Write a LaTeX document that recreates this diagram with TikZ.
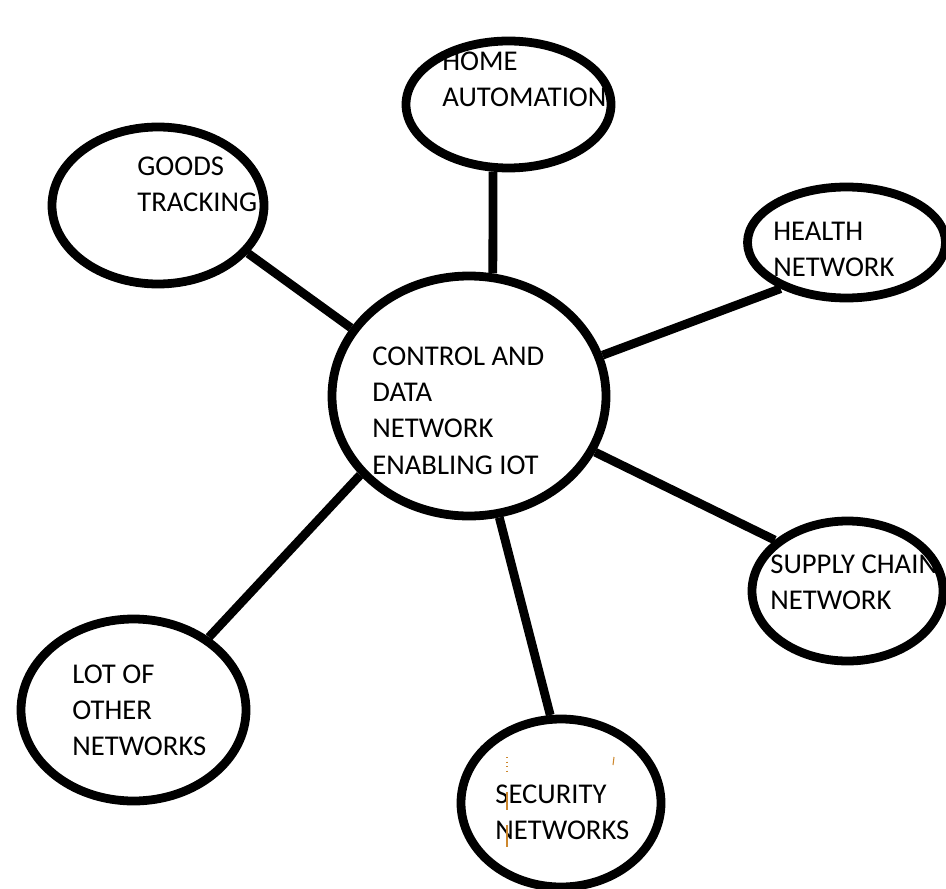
\documentclass[tikz,border=0pt]{standalone}
\usepackage{fontspec}
\setmainfont{Carlito}
\usepackage{tikz}
\usetikzlibrary{shapes.geometric}
\definecolor{cursor}{RGB}{205,135,45}

\begin{document}
\begin{tikzpicture}[
    bubble/.style={draw, ellipse, line width=5pt, inner sep=0pt},
    link/.style={line width=5pt},
    lbl/.style={anchor=north west, inner sep=0pt, align=left,
        font=\fontsize{16.3}{20.5}\selectfont}
]

\useasboundingbox (0,0) rectangle (18.92,-17.76);

% Bubbles
\node[bubble, minimum width=5.48cm, minimum height=4.8cm] (ctr) at (9.38,-7.92) {};
\node[bubble, minimum width=4.1cm, minimum height=2.54cm] (home) at (10.17,-2.09) {};
\node[bubble, minimum width=4.24cm, minimum height=3.14cm] (goods) at (3.16,-4.11) {};
\node[bubble, minimum width=3.96cm, minimum height=2.22cm] (health) at (16.93,-4.85) {};
\node[bubble, minimum width=3.82cm, minimum height=2.8cm] (supply) at (16.95,-11.82) {};
\node[bubble, minimum width=4.5cm, minimum height=3.64cm] (lot) at (2.67,-14.2) {};
\node[bubble, minimum width=4cm, minimum height=3.36cm] (sec) at (11.22,-16.06) {};

% Texts
\node[lbl] (ctrTxt) at (7.44,-6.94) {CONTROL AND\\DATA\\NETWORK\\ENABLING IOT};
\node[lbl] (homeTxt) at (8.84,-1.03) {HOME\\AUTOMATION};
\node[lbl] (goodsTxt) at (2.74,-3.14) {GOODS\\TRACKING};
\node[lbl] (healthTxt) at (15.46,-4.44) {HEALTH\\NETWORK};
\node[lbl] (supplyTxt) at (15.4,-11.1) {SUPPLY CHAIN\\NETWORK};
\node[lbl] (lotTxt) at (1.44,-13.3) {LOT OF\\OTHER\\NETWORKS};
\node[lbl] (secTxt) at (9.9,-15.7) {SECURITY\\NETWORKS};

% Links
\draw[link] (ctr.79) -- (home.257);
\draw[link] (ctr.150) -- (goods.332);
\draw[link] (ctr.17) -- (health.215);
\draw[link] (ctr.336) -- (supply.145);
\draw[link] (ctr.284) -- (sec.97);
\draw[link] (ctr.216) -- (lot.44);

% cursor marks
\draw[cursor, line width=0.6pt, dotted] (10.14,-15.14) -- (10.14,-15.44);
\draw[cursor, line width=0.6pt] (10.14,-15.84) -- (10.14,-16.2);
\draw[cursor, line width=0.6pt] (10.14,-16.5) -- (10.14,-16.94);
\draw[cursor, line width=0.6pt] (12.28,-15.14) -- (12.26,-15.3);

\end{tikzpicture}
\end{document}
